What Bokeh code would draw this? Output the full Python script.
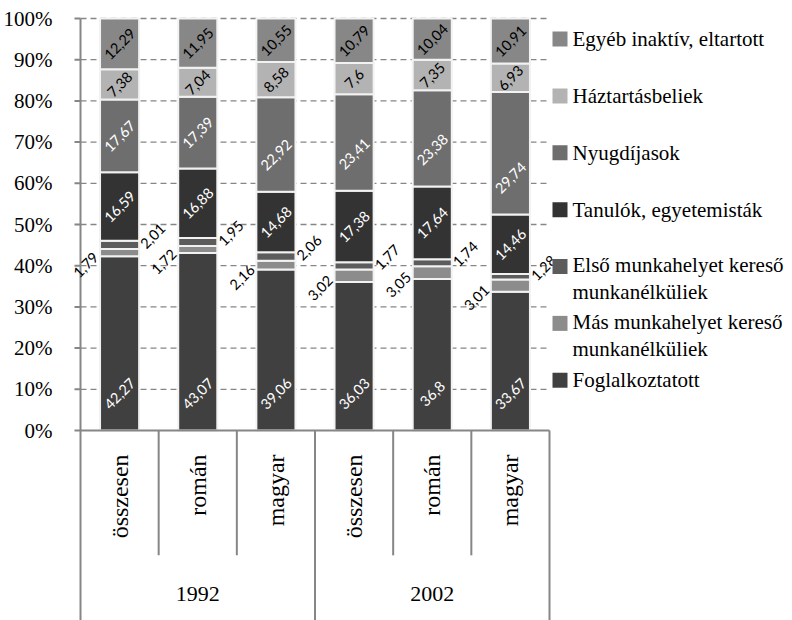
import numpy as np
from bokeh.plotting import figure
from bokeh.models import ColumnDataSource, Range1d
from bokeh.core.properties import value
from bokeh.embed import file_html
from bokeh.resources import INLINE

# ---------------- data ----------------
years = ["1992", "2002"]
groups = ["összesen", "román", "magyar"]

foglalkoztatott = [42.27, 43.07, 39.06, 36.03, 36.8, 33.67]
mas_kereso = [1.79, 1.72, 2.16, 3.02, 3.05, 3.01]
elso_kereso = [2.01, 1.95, 2.06, 1.77, 1.74, 1.28]
tanulok = [16.59, 16.88, 14.68, 17.38, 17.64, 14.46]
nyugdijasok = [17.67, 17.39, 22.92, 23.41, 23.38, 29.74]
haztartasbeliek = [7.38, 7.04, 8.58, 7.6, 7.35, 6.93]
egyeb = [12.29, 11.95, 10.55, 10.79, 10.04, 10.91]

series_names = ["Foglalkoztatott",
                "Más munkahelyet kereső\nmunkanélküliek",
                "Első munkahelyet kereső\nmunkanélküliek",
                "Tanulók, egyetemisták",
                "Nyugdíjasok",
                "Háztartásbeliek",
                "Egyéb inaktív, eltartott"]
series_values = [foglalkoztatott, mas_kereso, elso_kereso, tanulok,
                 nyugdijasok, haztartasbeliek, egyeb]

y_ticks = [0, 10, 20, 30, 40, 50, 60, 70, 80, 90, 100]
y_tick_labels = ["0%", "10%", "20%", "30%", "40%", "50%", "60%", "70%",
                 "80%", "90%", "100%"]

# ---------------- styling ----------------
colors = ["#404040", "#8c8c8c", "#5c5c5c", "#333333", "#6e6e6e",
          "#b3b3b3", "#878787"]
label_colors = ["white", "black", "black", "white", "white", "black", "black"]
# label placement mode: 'base' (near base, or centre if smaller), 'left', 'right'
label_mode = ["base", "left", "right", "base", "base", "base", "base"]

GREY = "#868686"
SERIF = "Liberation Serif"
SANS = "Lato"

W, H = 792, 620
LEFT, TOP = 80, 18          # pixel position of the value axis / 100% line
n_cat = len(years) * len(groups)
px_per_x = 469.0 / n_cat
px_per_y = 4.12
x_min = -LEFT / px_per_x
x_max = (W - LEFT) / px_per_x
y_max = 100 + TOP / px_per_y
y_min = 100 - (H - TOP) / px_per_y

p = figure(width=W, height=H, output_backend="svg", toolbar_location=None,
           x_range=Range1d(x_min, x_max), y_range=Range1d(y_min, y_max),
           x_axis_location=None, y_axis_location=None, min_border=0)
p.outline_line_color = None
p.grid.visible = False
p.background_fill_color = "white"

# dashed gridlines
grid_ticks = [t for t in y_ticks if t > 0]
p.segment(x0=[0] * len(grid_ticks), x1=[n_cat] * len(grid_ticks),
          y0=grid_ticks, y1=grid_ticks, line_color=GREY, line_width=1.3,
          line_dash="6 4")

# value axis (line, ticks, labels) drawn on the plot's own scales
tick_len = 6 / px_per_x
p.segment(x0=[0], x1=[0], y0=[y_min], y1=[100], line_color=GREY, line_width=2)
p.segment(x0=[-tick_len] * len(y_ticks), x1=[0] * len(y_ticks),
          y0=y_ticks, y1=y_ticks, line_color=GREY, line_width=2)
p.text(x=[-(6 + 22) / px_per_x] * len(y_ticks), y=y_ticks, text=y_tick_labels,
       text_font=value(SERIF), text_font_size="21px", text_color="black",
       text_align="right", text_baseline="middle")

# stacked bars
xs = np.arange(n_cat) + 0.5
vals = np.array(series_values, dtype=float)
tops = np.cumsum(vals, axis=0)
bottoms = tops - vals

for i, name in enumerate(series_names):
    p.vbar(x=xs, bottom=bottoms[i], top=tops[i], width=0.5,
           fill_color=colors[i], line_color="#f2f2f2", line_width=2)

# data labels
for i in range(len(series_names)):
    mids = (bottoms[i] + tops[i]) / 2
    texts = [f"{v:g}".replace(".", ",") for v in vals[i]]
    if label_mode[i] == "base":
        ys = np.minimum(bottoms[i] + 9, mids)
        lx = xs
    elif label_mode[i] == "left":
        ys = mids - 12 / px_per_y
        lx = xs - 34 / px_per_x
    else:
        ys = mids + 9 / px_per_y
        lx = xs + 33 / px_per_x
    src = ColumnDataSource(dict(x=lx, y=ys, t=texts))
    p.text(x="x", y="y", text="t", source=src, angle=np.pi / 4,
           text_font=value(SANS), text_font_size="14.5px",
           text_color=label_colors[i], text_align="center",
           text_baseline="middle")

# category axis: baseline and separators
p.segment(x0=[0], x1=[n_cat], y0=[0], y1=[0], line_color=GREY, line_width=2)
sep_x = list(range(1, n_cat + 1))
sep_bottom = [y_min if (k % len(groups) == 0) else -30.3 for k in sep_x]
p.segment(x0=sep_x, x1=sep_x, y0=[0] * len(sep_x), y1=sep_bottom,
          line_color=GREY, line_width=2)

# subcategory labels (rotated)
sub_src = ColumnDataSource(dict(x=xs, t=groups * len(years)))
p.text(x="x", y=-5.8, text="t", source=sub_src, angle=np.pi / 2,
       text_font=value(SERIF), text_font_size="24px", text_color="black",
       text_align="right", text_baseline="middle")

# year labels
year_x = [len(groups) * (k + 0.5) for k in range(len(years))]
p.text(x=year_x, y=[-39.8] * len(years), text=years,
       text_font=value(SERIF), text_font_size="22px", text_color="black",
       text_align="center", text_baseline="middle")

# legend (manual, top item = last series)
order = list(range(len(series_names)))[::-1]
leg_y = [95.0 - 13.8 * k for k in range(len(order))]
sq_x = n_cat + 10.5 / px_per_x
tx_x = n_cat + 23.0 / px_per_x
leg_fs = 21
line_h = 1.12
p.scatter(x=[sq_x] * len(order), y=leg_y, marker="square", size=15,
          fill_color=[colors[i] for i in order], line_color=None)
leg_texts = [series_names[i] for i in order]
leg_off = [(t.count("\n")) * leg_fs * line_h / 2 for t in leg_texts]
leg_src = ColumnDataSource(dict(x=[tx_x] * len(order), y=leg_y, t=leg_texts,
                                yo=leg_off))
p.text(x="x", y="y", text="t", y_offset="yo", source=leg_src,
       text_font=value(SERIF), text_font_size=f"{leg_fs}px",
       text_color="black", text_align="left", text_baseline="middle",
       text_line_height=line_h)

open("out.html", "w").write(file_html(p, INLINE))
